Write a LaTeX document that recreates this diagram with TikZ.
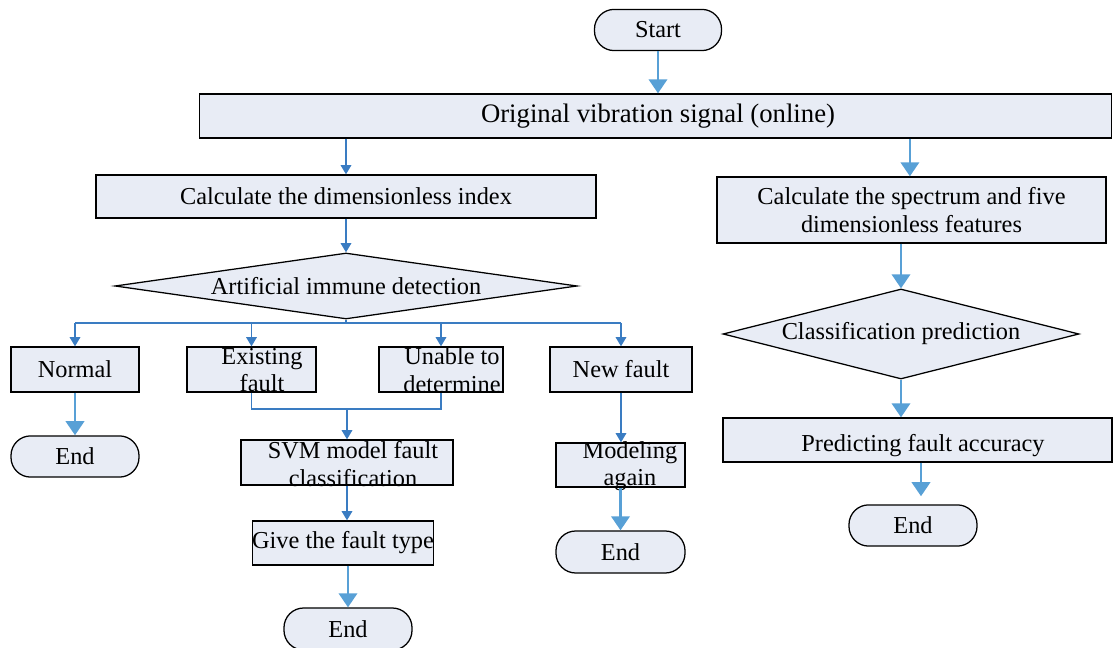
\documentclass[tikz,border=0pt]{standalone}
\usepackage{fontspec}
\setmainfont{Liberation Serif}
\usetikzlibrary{arrows.meta,shapes.geometric,calc}
\definecolor{boxfill}{RGB}{232,236,245}
\definecolor{thinblue}{RGB}{58,124,194}
\definecolor{thickblue}{RGB}{88,160,214}
\tikzset{
  base/.style={draw=black,line width=0.9pt,fill=boxfill,inner sep=0pt,align=center,
    font=\fontsize{17.3}{19.5}\selectfont},
  procbox/.style={base,rectangle},
  termbox/.style={base,rectangle,rounded corners=14pt,minimum width=3.2cm,minimum height=1.03cm},
  decbox/.style={base,diamond},
  txt/.style={inner sep=0pt,align=center,font=\fontsize{17.3}{19.5}\selectfont},
  thinarrow/.style={draw=thinblue,line width=1pt,-{Triangle[width=7.5pt,length=6.5pt]}},
  thinline/.style={draw=thinblue,line width=1pt},
  thickarrow/.style={draw=thickblue,line width=2pt,-{Triangle[width=13pt,length=10pt]}}
}
\begin{document}
\begin{tikzpicture}[x=0.025cm,y=-0.025cm]
\useasboundingbox (0,0) rectangle (1113,648);
% nodes
\node[termbox,minimum width=3.175cm] (start) at (658,30) {Start};
\node[procbox,minimum width=22.8cm,minimum height=1.1cm] (orig) at (655.5,116) {};
\node[txt,font=\fontsize{19}{21}\selectfont] (orig-t) at (658,116) {Original vibration signal (online)};
\node[procbox,minimum width=12.5cm,minimum height=1.075cm] (calcL) at (346,196.5) {Calculate the dimensionless index};
\node[procbox,minimum width=9.725cm,minimum height=1.65cm] (calcR) at (911.5,210) {Calculate the spectrum and five\\dimensionless features};
\node[decbox,aspect=7,minimum width=11.55cm,minimum height=1.65cm] (dl) at (346,286) {Artificial immune detection};
\node[decbox,aspect=3.96,minimum width=8.9cm,minimum height=2.25cm] (dr) at (901,334) {Classification prediction};
\node[procbox,minimum width=3.2cm,minimum height=1.125cm] (normal) at (75,369.5) {Normal};
\node[procbox,minimum width=3.225cm,minimum height=1.125cm] (exist) at (251.5,369.5) {};
\node[txt] (exist-t) at (262,370) {Existing\\fault};
\node[procbox,minimum width=3.1cm,minimum height=1.125cm] (unable) at (441,369.5) {};
\node[txt] (unable-t) at (452,370) {Unable to\\determine};
\node[procbox,minimum width=3.55cm,minimum height=1.125cm] (newf) at (621,369.5) {New fault};
\node[termbox] (endL) at (75,456.5) {End};
\node[procbox,minimum width=5.3cm,minimum height=1.125cm] (svm) at (347,462.5) {};
\node[txt] (svm-t) at (353,464) {SVM model fault\\classification};
\node[procbox,minimum width=4.5cm,minimum height=1.1cm] (give) at (343,543) {Give the fault type};
\node[termbox,minimum height=1.05cm] (end3) at (348,629) {End};
\node[procbox,minimum width=3.225cm,minimum height=1.1cm] (model) at (620.5,465) {};
\node[txt] (model-t) at (630,466) {Modeling\\again};
\node[termbox,minimum width=3.225cm,minimum height=1.05cm] (endM) at (620.5,552) {End};
\node[procbox,minimum width=9.725cm,minimum height=1.1cm] (pred) at (917.5,440) {};
\node[txt] (pred-t) at (923,446) {Predicting fault accuracy};
\node[termbox] (endR) at (913,525.5) {End};
\coordinate (br) at (346,323);
\coordinate (jn) at (347,409);
% connectors
\draw[thickarrow] (start.south) -- (start.south |- orig.north);
\draw[thinarrow] (dl.north |- orig.south) -- (dl.north |- calcL.north);
\draw[thickarrow] ([xshift=-0.04cm]calcR.north |- orig.south) -- ([xshift=-0.04cm]calcR.north);
\draw[thinarrow] (dl.north |- calcL.south) -- (dl.north);
\draw[thickarrow] (dr.north |- calcR.south) -- (dr.north);
\draw[thickarrow] (dr.south) -- (dr.south |- pred.north);
\draw[thickarrow] ([xshift=0.2cm]endR.north |- pred.south) -- ([xshift=0.2cm,yshift=0.2cm]endR.north);
\draw[thinline] (dl.south) -- (br);
\draw[thinline] (normal.north |- br) -- (newf.north |- br);
\draw[thinarrow] (normal.north |- br) -- (normal.north);
\draw[thinarrow] (exist.north |- br) -- (exist.north);
\draw[thinarrow] (unable.north |- br) -- (unable.north);
\draw[thinarrow] (newf.north |- br) -- (newf.north);
\draw[thickarrow] (normal.south) -- (endL.north);
\draw[thinline] (exist.south) |- (unable.south |- jn) -- (unable.south);
\draw[thinarrow] (svm.north |- jn) -- (svm.north);
\draw[thinarrow] (svm.south) -- (svm.south |- give.north);
\draw[thickarrow] (end3.north |- give.south) -- (end3.north);
\draw[thinarrow] (newf.south) -- (newf.south |- model.north);
\draw[thickarrow] (model.south) -- (endM.north);
\end{tikzpicture}
\end{document}
